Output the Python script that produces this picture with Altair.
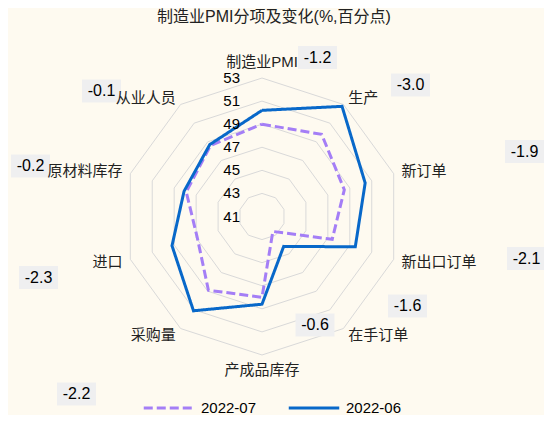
import math
import altair as alt
import pandas as pd

# ---------------- data ----------------
categories = ["制造业PMI", "生产", "新订单", "新出口订单", "在手订单",
              "产成品库存", "采购量", "进口", "原材料库存", "从业人员"]
jul_2022 = [49.0, 49.8, 48.5, 47.4, 42.6, 48.0, 48.9, 46.9, 47.9, 48.6]
jun_2022 = [50.2, 52.8, 50.4, 49.5, 44.2, 48.6, 51.1, 49.2, 48.1, 48.7]
change = [-1.2, -3.0, -1.9, -2.1, -1.6, -0.6, -2.2, -2.3, -0.2, -0.1]
series_names = ["2022-07", "2022-06"]
radial_ticks = [41, 43, 45, 47, 49, 51, 53]

# ---------------- layout ----------------
W, H = 536, 407            # plot area (px)
CX, CY = 254, 208.5        # radar centre (px, from top-left of plot)
K = 11.54                  # px per PMI point
R_MIN, R_MAX = 41, 53
LABEL_R = 53.7             # category label radius (value units)
# change-label box offsets from centre, px (dx right, dy down)
change_box_px = [(55.5, -159), (148.5, -131.5), (262.5, -65), (264.5, 42),
                 (145.5, 89.5), (53, 108.5), (-185.5, 177.5), (-223.5, 61),
                 (-231.5, -50.5), (-160.5, -125.5)]
PURPLE, BLUE = "#a47ef6", "#0868c9"
BG = "#fefaf0"
MIX_FONT = "Liberation Sans, Noto Sans CJK SC"

n = len(categories)
ang = [2 * math.pi * i / n for i in range(n)]


def pos(v, i):
    r = v - R_MIN
    return r * math.sin(ang[i]), r * math.cos(ang[i])


xs = alt.Scale(domain=[-CX / K, (W - CX) / K], nice=False, zero=False)
ys = alt.Scale(domain=[-(H - CY) / K, CY / K], nice=False, zero=False)
X = lambda: alt.X("x:Q", scale=xs, axis=None)
Y = lambda: alt.Y("y:Q", scale=ys, axis=None)

# grid rings
grid_rows = []
for t in radial_ticks[1:]:
    for j in range(n + 1):
        x, y = pos(t, j % n)
        grid_rows.append({"ring": t, "o": j, "x": x, "y": y})
grid = alt.Chart(pd.DataFrame(grid_rows)).mark_line(
    color="#d9d9d9", strokeWidth=1
).encode(x=X(), y=Y(), order="o:Q", detail="ring:N")

# series
srows = []
for name, vals in zip(series_names, [jul_2022, jun_2022]):
    for j in range(n + 1):
        x, y = pos(vals[j % n], j % n)
        srows.append({"series": name, "o": j, "x": x, "y": y,
                      "cat": categories[j % n], "value": vals[j % n]})
leg = alt.Legend(orient="none", legendX=134, legendY=373, direction="horizontal",
                 title=None, symbolType="stroke", symbolSize=2550,
                 symbolStrokeWidth=3, labelFontSize=15, labelFont="Liberation Sans",
                 labelColor="#000000", columnPadding=25, labelOffset=5, padding=0)
lines = alt.Chart(pd.DataFrame(srows)).mark_line(strokeWidth=3).encode(
    x=X(), y=Y(), order="o:Q",
    color=alt.Color("series:N", scale=alt.Scale(domain=series_names, range=[PURPLE, BLUE]),
                    legend=leg),
    strokeDash=alt.StrokeDash("series:N",
                              scale=alt.Scale(domain=series_names, range=[[9, 4], [1, 0]]),
                              legend=leg),
)

# radial tick labels
tick_df = pd.DataFrame({"t": radial_ticks, "x": [0.0] * len(radial_ticks),
                        "y": [t - R_MIN for t in radial_ticks],
                        "label": [str(t) for t in radial_ticks]})
tick_text = alt.Chart(tick_df).mark_text(
    align="right", baseline="middle", dx=-22, fontSize=15, font="Liberation Sans",
    color="#000000"
).encode(x=X(), y=Y(), text="label:N")

# category labels
crows = []
for i, c in enumerate(categories):
    x, y = pos(LABEL_R, i)
    s, co = math.sin(ang[i]), math.cos(ang[i])
    if s > 0.01:
        side = "left"
    elif s < -0.01:
        side = "right"
    elif co > 0:
        side = "top"
    else:
        side = "bottom"
    crows.append({"cat": c, "x": x, "y": y, "side": side})
cat_df = pd.DataFrame(crows)
cat_base = alt.Chart(cat_df)
cat_layers = []
for side, al, bl in [("left", "left", "middle"), ("right", "right", "middle"),
                     ("top", "center", "bottom"), ("bottom", "center", "top")]:
    cat_layers.append(cat_base.transform_filter(alt.datum.side == side).mark_text(
        align=al, baseline=bl, fontSize=15, font=MIX_FONT, color="#222222"
    ).encode(x=X(), y=Y(), text="cat:N"))

# change labels with boxes
chrows = []
for i, (c, d) in enumerate(zip(categories, change)):
    dx, dy = change_box_px[i]
    chrows.append({"cat": c, "chg": f"{d:.1f}", "x": dx / K, "y": -dy / K})
ch_df = pd.DataFrame(chrows)
boxes = alt.Chart(ch_df).mark_point(
    shape="M-1,-0.59H1V0.59H-1Z", size=1521, filled=True, opacity=1,
    color="#efeff0", strokeWidth=0
).encode(x=X(), y=Y())
box_text = alt.Chart(ch_df).mark_text(
    align="center", baseline="middle", fontSize=16, font="Liberation Sans",
    color="#000000"
).encode(x=X(), y=Y(), text="chg:N")

# title
title = alt.Chart(pd.DataFrame({"t": ["制造业PMI分项及变化(%,百分点)"]})).mark_text(
    align="center", baseline="middle", fontSize=16, font=MIX_FONT,
    color="#222222"
).encode(x=alt.value(266), y=alt.value(9), text="t:N")

chart = alt.layer(grid, lines, tick_text, boxes, box_text, *cat_layers, title).properties(
    width=W, height=H, padding=0, background=BG,
    autosize=alt.AutoSizeParams(type="none")
).configure_view(stroke=None)

chart.save("out.html", embed_options={"renderer": "svg", "actions": False})
